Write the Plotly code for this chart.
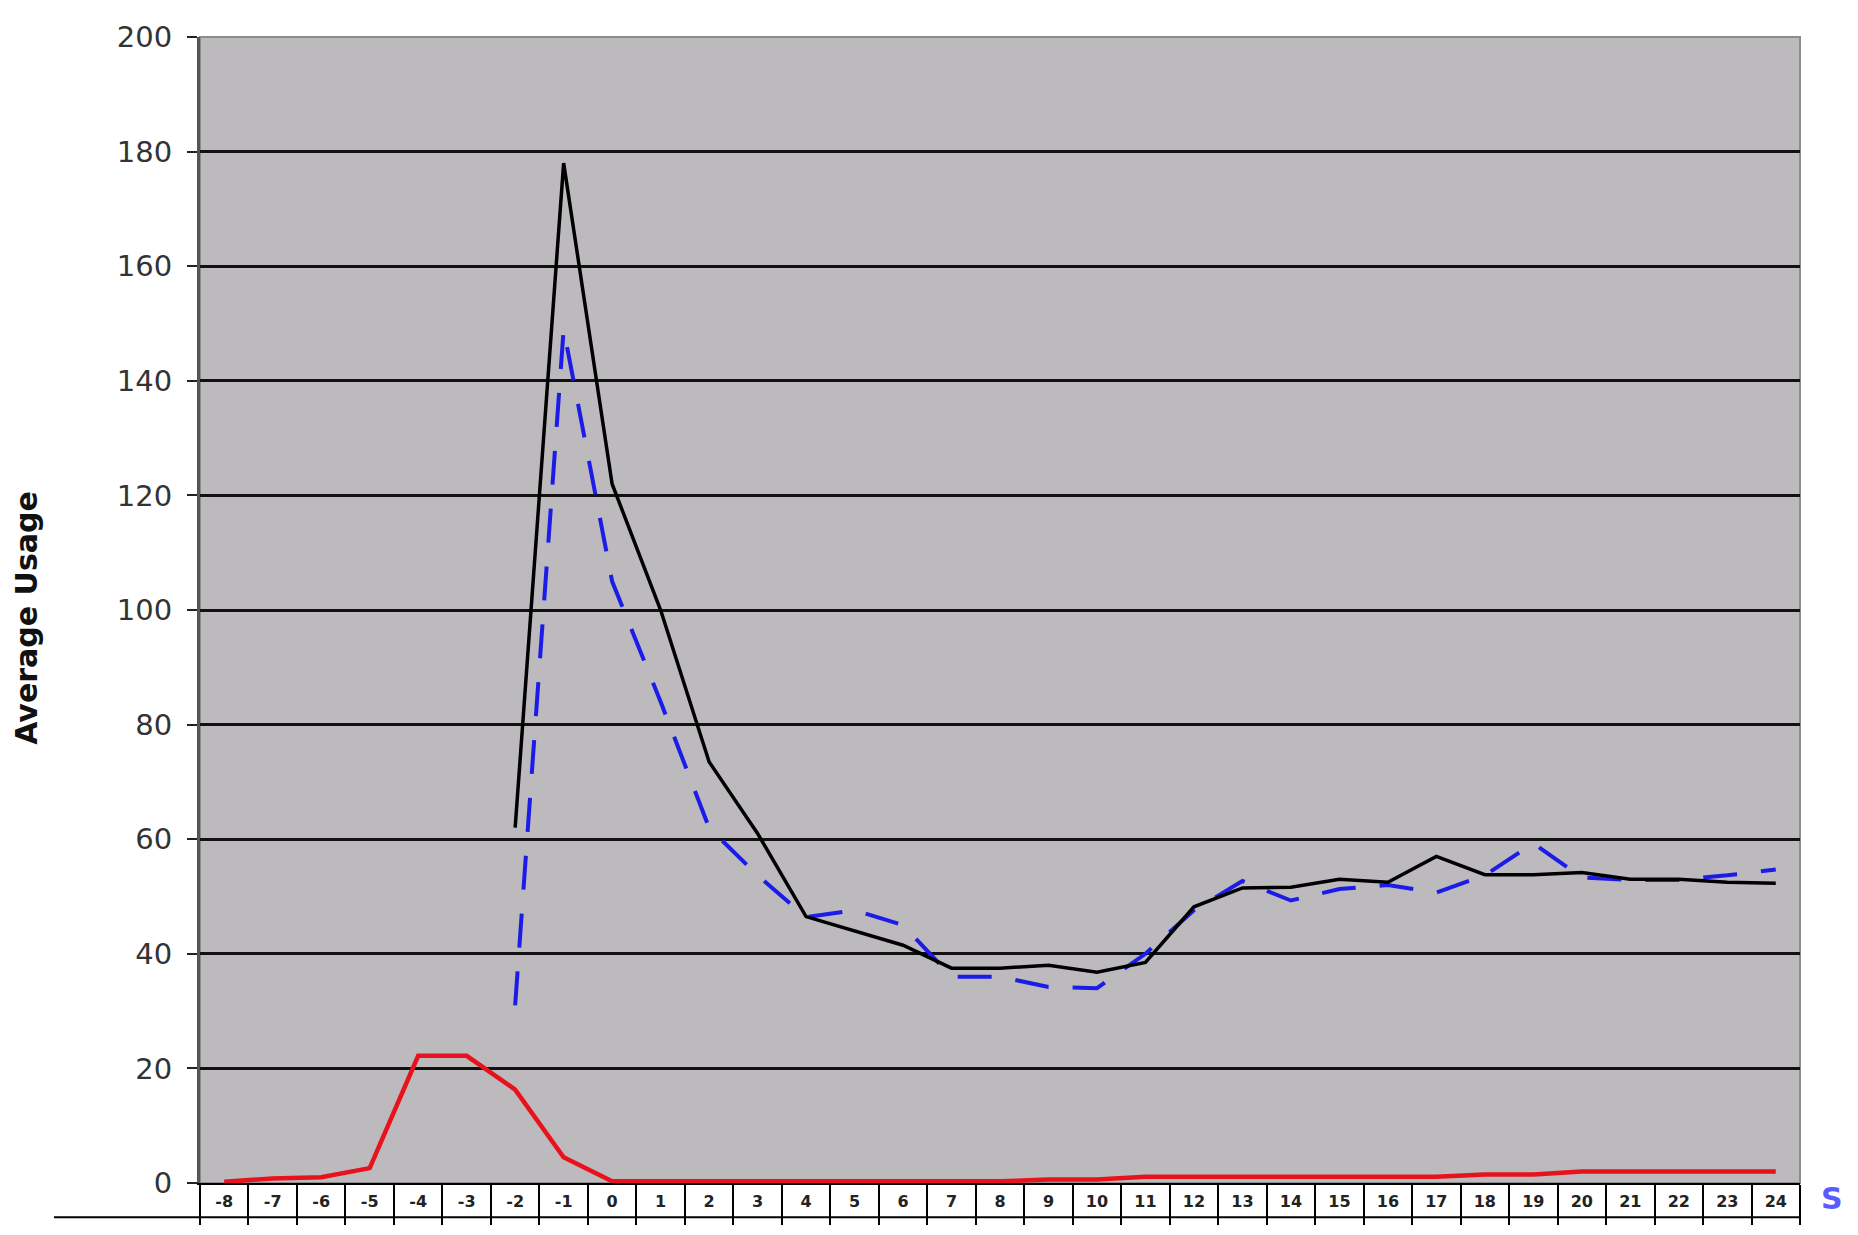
import plotly.graph_objects as go

categories = [str(v) for v in range(-8, 25)]

# Black solid series (starts at -2)
black_x = ["-2", "-1", "0", "1", "2", "3", "4", "5", "6", "7", "8", "9", "10", "11", "12",
           "13", "14", "15", "16", "17", "18", "19", "20", "21", "22", "23", "24"]
black_y = [62, 178, 122, 100, 73.5, 61, 46.5, 44, 41.5, 37.5, 37.5, 38, 36.8, 38.5, 48.2,
           51.5, 51.6, 53, 52.5, 57, 53.8, 53.8, 54.2, 53, 53, 52.5, 52.3]

# Blue dashed series (starts at -2)
blue_x = black_x
blue_y = [31, 149, 105, 84, 62, 53.7, 46.4, 47.6, 45, 36, 36, 34.2, 34, 40, 47.6,
          52.7, 49.3, 51.3, 52, 50.7, 53.7, 59.3, 53.3, 52.9, 52.9, 53.7, 54.7]

# Red solid series (full range)
red_x = categories
red_y = [0.2, 0.8, 1.0, 2.6, 22.2, 22.2, 16.3, 4.5, 0.3, 0.3, 0.3, 0.3, 0.3, 0.3, 0.3, 0.3, 0.3,
         0.6, 0.6, 1.1, 1.1, 1.1, 1.1, 1.1, 1.1, 1.1, 1.5, 1.5, 2.0, 2.0, 2.0, 2.0, 2.0]

y_ticks = list(range(0, 201, 20))

# page body adds an 8px offset; figure is sized to fit the window
W, H = 1850, 1227
ML, MR, MT, MB = 192, 58, 15, 38
PW, PH = W - ML - MR, H - MT - MB

fig = go.Figure()
fig.add_trace(go.Scatter(x=red_x, y=red_y, mode="lines",
                         line=dict(color="#e8121c", width=4.5)))
fig.add_trace(go.Scatter(x=blue_x, y=blue_y, mode="lines",
                         line=dict(color="#1c1ce8", width=4, dash="34px,24px")))
fig.add_trace(go.Scatter(x=black_x, y=black_y, mode="lines",
                         line=dict(color="#000000", width=3.5)))

fig.update_layout(
    width=W, height=H,
    margin=dict(l=ML, r=MR, t=MT, b=MB),
    paper_bgcolor="white",
    plot_bgcolor="#bcbabd",
    showlegend=False,
    font=dict(family="DejaVu Sans", color="#333333"),
    xaxis=dict(
        type="category",
        categoryorder="array", categoryarray=categories,
        range=[-0.5, len(categories) - 0.5],
        showgrid=False, zeroline=False,
        showline=True, linecolor="#000000", linewidth=2,
        ticks="outside", tickson="boundaries", ticklen=40, tickwidth=2,
        tickcolor="#000000",
        tickfont=dict(family="DejaVu Sans", size=16, color="#222222", weight="bold"),
        ticklabelstandoff=3,
        ticklabeloverflow="allow",
    ),
    yaxis=dict(
        range=[0, 200], tickvals=y_ticks,
        showgrid=True, gridcolor="#111111", gridwidth=2.5,
        zeroline=False,
        showline=True, linecolor="#555555", linewidth=3,
        ticks="outside", ticklen=10, tickwidth=2, tickcolor="#222222",
        tickfont=dict(family="DejaVu Sans", size=29, color="#333333"),
        ticklabelstandoff=9,
        ticklabeloverflow="allow",
    ),
)

# plot border (top/right) in gray
fig.add_shape(type="rect", xref="paper", yref="paper", x0=0, x1=1, y0=0, y1=1,
              line=dict(color="#8c8c8c", width=2), layer="below")

# bottom line of the label table
fig.add_shape(type="line", xref="paper", yref="paper",
              x0=(46 - ML) / PW, x1=1.0, y0=-35 / PH, y1=-35 / PH,
              line=dict(color="#000000", width=2))

fig.add_annotation(text="<b>Average Usage</b>", textangle=-90,
                   xref="paper", yref="paper",
                   x=(19 - ML) / PW, y=0.5 - 8 / PH, xanchor="center", yanchor="middle",
                   showarrow=False,
                   font=dict(family="DejaVu Sans", size=30, color="#111111"))

# blue glyph at lower right edge of the source image
fig.add_annotation(text="<b>S</b>", xref="paper", yref="paper",
                   x=(1824 - ML) / PW, y=-36 / PH, xanchor="center", yanchor="bottom",
                   showarrow=False,
                   font=dict(family="DejaVu Sans", size=30, color="#5a5aff"))

fig.write_html("out.html")
